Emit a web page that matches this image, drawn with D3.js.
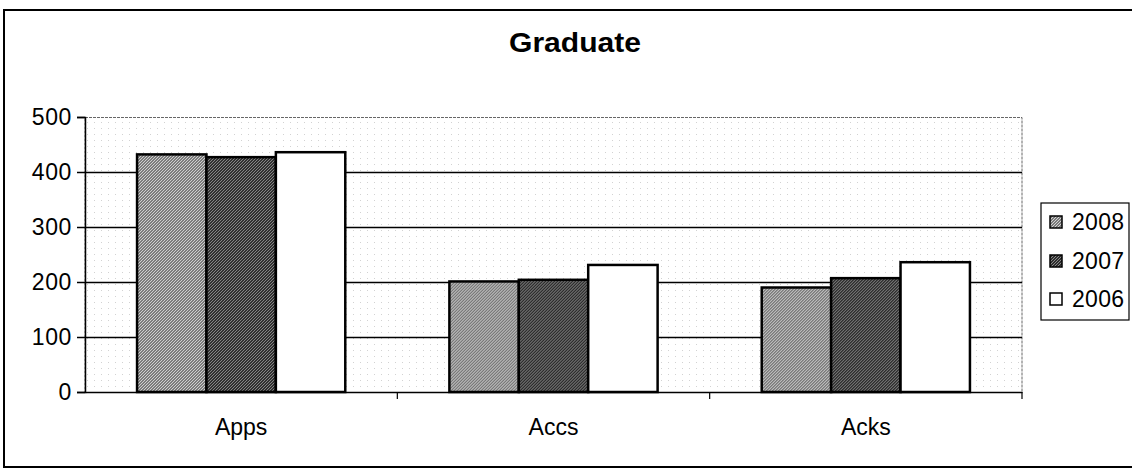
<!DOCTYPE html>
<html>
<head>
<meta charset="UTF-8" />
<title>Graduate</title>
<script src="https://cdn.jsdelivr.net/npm/d3@7"></script>
<style>
    body { margin: 0; background: #fff; }
    svg text { font-family: 'Liberation Sans', Arial, sans-serif; fill: #000; }
</style>
</head>
<body>
<div id="chart"></div>
<script>
var categories = ["Apps", "Accs", "Acks"];
var seriesNames = ["2008", "2007", "2006"];
var v2008 = [432, 201, 190];
var v2007 = [427, 204, 207];
var v2006 = [436, 231, 236];
var yTicks = [0, 100, 200, 300, 400, 500];

var seriesValues = [v2008, v2007, v2006];
var fills = ["url(#dots2008)", "url(#dots2007)", "#ffffff"];

var W = 1132, H = 473;
var plotL = 85, plotR = 1022, plotT = 117, plotB = 392;

var svg = d3.select("#chart").append("svg")
    .attr("width", W)
    .attr("height", H);

var defs = svg.append("defs");

// stippled textures like the scanned print
function stipple(id, bg, dot, size) {
    var p = defs.append("pattern")
        .attr("id", id)
        .attr("patternUnits", "userSpaceOnUse")
        .attr("width", size).attr("height", size);
    p.append("rect").attr("width", size).attr("height", size).attr("fill", bg);
    p.append("rect").attr("x", 0).attr("y", 0).attr("width", 1).attr("height", 1).attr("fill", dot);
    p.append("rect").attr("x", 2).attr("y", 1).attr("width", 1).attr("height", 1).attr("fill", dot);
    p.append("rect").attr("x", 1).attr("y", 2).attr("width", 1).attr("height", 1).attr("fill", dot);
}
stipple("dots2008", "#7a7a7a", "#d4d4d4", 3);
stipple("dots2007", "#2e2e2e", "#8a8a8a", 3);

var plotBg = defs.append("pattern")
    .attr("id", "plotbg")
    .attr("patternUnits", "userSpaceOnUse")
    .attr("width", 7).attr("height", 6);
plotBg.append("rect").attr("width", 7).attr("height", 6).attr("fill", "#ffffff");
plotBg.append("rect").attr("x", 3).attr("y", 2).attr("width", 1).attr("height", 1).attr("fill", "#d2d2d2");

// outer frame
svg.append("rect")
    .attr("x", 4).attr("y", 10)
    .attr("width", 1140).attr("height", 457)
    .attr("fill", "none")
    .attr("stroke", "#000")
    .attr("stroke-width", 2);

svg.append("text")
    .attr("x", 575).attr("y", 52)
    .attr("text-anchor", "middle")
    .attr("font-size", 27)
    .attr("font-weight", "bold")
    .attr("textLength", 132)
    .attr("lengthAdjust", "spacingAndGlyphs")
    .text("Graduate");

var x = d3.scaleBand().domain(categories).range([plotL, plotR]).padding(0);
var groupW = x.bandwidth() * 3 / 4.5;
var xs = d3.scaleBand().domain(seriesNames).range([0, groupW]).padding(0);
var y = d3.scaleLinear().domain([0, 500]).range([plotB, plotT]);

// plot area
svg.append("rect")
    .attr("x", plotL).attr("y", plotT + 0.5)
    .attr("width", plotR - plotL).attr("height", plotB - plotT)
    .attr("fill", "url(#plotbg)")
    .attr("stroke", "#666")
    .attr("stroke-width", 1)
    .attr("stroke-dasharray", "3,1");

// gridlines
svg.append("g").selectAll("line")
    .data(yTicks.filter(function(d){ return d > 0 && d < 500; }))
    .enter().append("line")
    .attr("x1", plotL).attr("x2", plotR)
    .attr("y1", function(d){ return Math.round(y(d)) + 0.5; })
    .attr("y2", function(d){ return Math.round(y(d)) + 0.5; })
    .attr("stroke", "#000")
    .attr("stroke-width", 1.5);

// bars
var groups = svg.append("g").selectAll("g")
    .data(categories)
    .enter().append("g")
    .attr("transform", function(d){
        return "translate(" + (x(d) + (x.bandwidth() - groupW) / 2) + ",0)";
    });

groups.selectAll("rect")
    .data(function(d, i){
        return seriesNames.map(function(s, j){ return {s: s, v: seriesValues[j][i], j: j}; });
    })
    .enter().append("rect")
    .attr("x", function(d){ return xs(d.s); })
    .attr("y", function(d){ return y(d.v); })
    .attr("width", xs.bandwidth())
    .attr("height", function(d){ return plotB - y(d.v); })
    .attr("fill", function(d){ return fills[d.j]; })
    .attr("stroke", "#000")
    .attr("stroke-width", 2.5);

// y axis
var yAxis = svg.append("g")
    .attr("transform", "translate(" + plotL + ",0)")
    .call(d3.axisLeft(y).tickValues(yTicks).tickSize(8).tickPadding(5));
yAxis.select(".domain").attr("stroke", "#000").attr("stroke-width", 1.5);
yAxis.selectAll(".tick line").attr("stroke", "#000").attr("stroke-width", 1.5);
yAxis.selectAll("text")
    .attr("font-size", 23)
    .attr("letter-spacing", "0.6px")
    .attr("font-family", "'Liberation Sans', Arial, sans-serif")
    .attr("fill", "#000");

// x axis
var xAxis = svg.append("g")
    .attr("transform", "translate(0," + plotB + ")")
    .call(d3.axisBottom(x).tickSize(0).tickFormat(""));
xAxis.select(".domain").attr("stroke", "#000").attr("stroke-width", 1.5);
xAxis.selectAll(".tick").remove();

svg.append("g").selectAll("line")
    .data(categories)
    .enter().append("line")
    .attr("x1", function(d){ return x(d) + x.bandwidth(); })
    .attr("x2", function(d){ return x(d) + x.bandwidth(); })
    .attr("y1", plotB).attr("y2", plotB + 7)
    .attr("stroke", "#000").attr("stroke-width", 1.2);

svg.append("g").selectAll("text")
    .data(categories)
    .enter().append("text")
    .attr("x", function(d){ return x(d) + x.bandwidth() / 2; })
    .attr("y", 435)
    .attr("text-anchor", "middle")
    .attr("font-size", 23)
    .text(function(d){ return d; });

// legend
var legend = svg.append("g");
legend.append("rect")
    .attr("x", 1041).attr("y", 203)
    .attr("width", 88).attr("height", 117)
    .attr("fill", "#fff")
    .attr("stroke", "#000")
    .attr("stroke-width", 1.2);

var legendRows = [222, 261, 299];
var items = legend.selectAll("g.item")
    .data(seriesNames)
    .enter().append("g")
    .attr("class", "item")
    .attr("transform", function(d, i){ return "translate(1050," + legendRows[i] + ")"; });

items.append("rect")
    .attr("x", 0).attr("y", -6)
    .attr("width", 12).attr("height", 12)
    .attr("fill", function(d, i){ return fills[i]; })
    .attr("stroke", "#000")
    .attr("stroke-width", 1.5);

items.append("text")
    .attr("x", 22).attr("y", 8)
    .attr("font-size", 23)
    .attr("letter-spacing", "0.3px")
    .text(function(d){ return d; });
</script>
</body>
</html>
